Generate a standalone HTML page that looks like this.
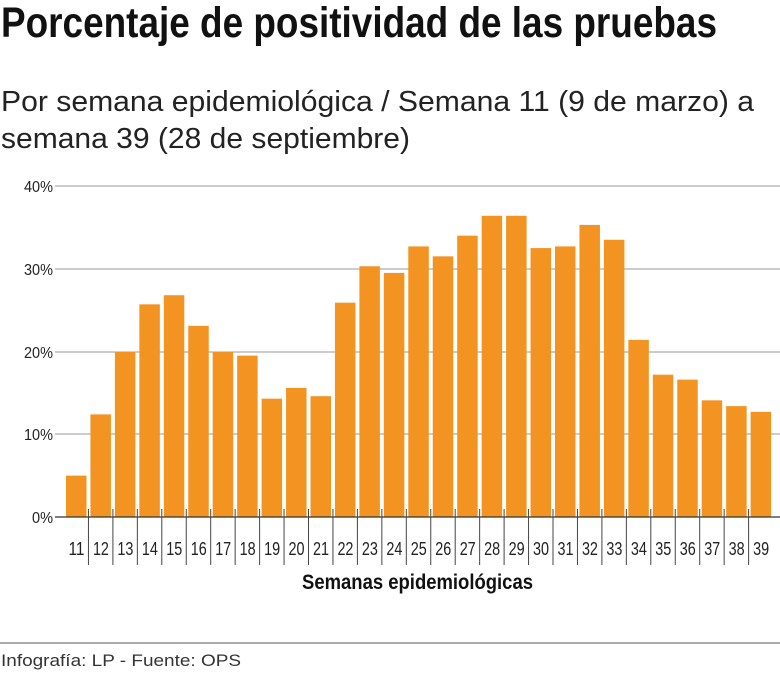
<!DOCTYPE html>
<html><head><meta charset="utf-8"><style>
html,body{margin:0;padding:0;background:#fff;}
svg{display:block;}
</style></head><body>
<svg width="780" height="691" viewBox="0 0 780 691" xmlns="http://www.w3.org/2000/svg">
<text x="1" y="37" font-family="Liberation Sans Narrow, Liberation Sans, sans-serif" font-weight="bold" font-size="43" textLength="716" lengthAdjust="spacingAndGlyphs" fill="#111">Porcentaje de positividad de las pruebas</text>
<text x="1" y="111" font-family="Liberation Sans, sans-serif" font-size="29" textLength="753" lengthAdjust="spacingAndGlyphs" fill="#222">Por semana epidemiológica / Semana 11 (9 de marzo) a</text>
<text x="1" y="148" font-family="Liberation Sans, sans-serif" font-size="29" textLength="409" lengthAdjust="spacingAndGlyphs" fill="#222">semana 39 (28 de septiembre)</text>
<g stroke="#999" stroke-width="1">
<line x1="55" y1="186" x2="780" y2="186"/>
<line x1="55" y1="269" x2="780" y2="269"/>
<line x1="55" y1="352" x2="780" y2="352"/>
<line x1="55" y1="434" x2="780" y2="434"/>
</g>
<g font-family="Liberation Sans, sans-serif" font-size="16" fill="#222" lengthAdjust="spacingAndGlyphs">
<text x="24" y="192" textLength="29" lengthAdjust="spacingAndGlyphs">40%</text>
<text x="24" y="275" textLength="29" lengthAdjust="spacingAndGlyphs">30%</text>
<text x="24" y="358" textLength="29" lengthAdjust="spacingAndGlyphs">20%</text>
<text x="24" y="440" textLength="29" lengthAdjust="spacingAndGlyphs">10%</text>
<text x="32" y="523" textLength="21" lengthAdjust="spacingAndGlyphs">0%</text>
</g>
<g id="bars" fill="#f39422"></g>
<line x1="55" y1="517" x2="780" y2="517" stroke="#333" stroke-width="1.2"/>
<g id="ticks" stroke="#444" stroke-width="1"></g>
<g id="labels" font-family="Liberation Sans, sans-serif" font-size="18" fill="#222"></g>
<text x="302" y="589" textLength="231" lengthAdjust="spacingAndGlyphs" font-family="Liberation Sans, sans-serif" font-weight="bold" font-size="21" fill="#111">Semanas epidemiológicas</text>
<line x1="0" y1="643" x2="780" y2="643" stroke="#555" stroke-width="1"/>
<text x="1" y="666" textLength="240" lengthAdjust="spacingAndGlyphs" font-family="Liberation Sans, sans-serif" font-size="17" fill="#333">Infografía: LP - Fuente: OPS</text>
</svg>
<script>
var v=[5,12.4,20,25.7,26.8,23.1,20,19.5,14.3,15.6,14.6,25.9,30.3,29.5,32.7,31.5,34,36.4,36.4,32.5,32.7,35.3,33.5,21.4,17.2,16.6,14.1,13.4,12.7];
var ns="http://www.w3.org/2000/svg",b=document.getElementById('bars'),t=document.getElementById('ticks'),l=document.getElementById('labels');
var p=24.45;
v.forEach(function(val,i){
 var x=66+i*p,h=val*8.275;
 var r=document.createElementNS(ns,'rect');r.setAttribute('x',x);r.setAttribute('y',517-h);r.setAttribute('width',20.5);r.setAttribute('height',h);b.appendChild(r);
 var tx=document.createElementNS(ns,'text');tx.setAttribute('x',x+2.5);tx.setAttribute('y',555);tx.setAttribute('textLength',16);tx.setAttribute('lengthAdjust','spacingAndGlyphs');tx.textContent=11+i;l.appendChild(tx);
 if(i>0){var ln=document.createElementNS(ns,'line');var lx=x-2;ln.setAttribute('x1',lx);ln.setAttribute('x2',lx);ln.setAttribute('y1',509);ln.setAttribute('y2',565);t.appendChild(ln);}
});
</script>
</body></html>
